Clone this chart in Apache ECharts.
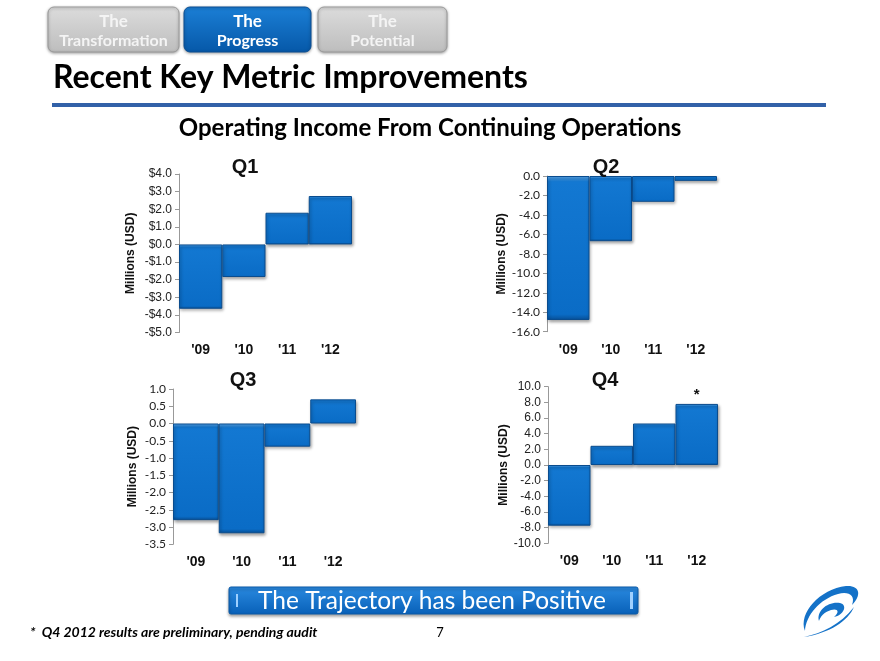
<!DOCTYPE html>
<html>
<head>
<meta charset="utf-8">
<script src="https://cdn.jsdelivr.net/npm/echarts@6/dist/echarts.min.js"></script>
<style>
html,body{margin:0;padding:0;background:#fff;}
#chart{width:880px;height:661px;}
</style>
</head>
<body>
<div id="chart"></div>
<script>
// ---- data ----
var years = ["'09", "'10", "'11", "'12"];
var q1Values = [-3.65, -1.85, 1.8, 2.75];
var q2Values = [-14.8, -6.7, -2.65, -0.5];
var q3Values = [-2.8, -3.18, -0.67, 0.7];
var q4Values = [-7.75, 2.45, 5.3, 7.8];
var panelTitles = ['Q1', 'Q2', 'Q3', 'Q4'];
var yAxisName = 'Millions (USD)';

var chart = echarts.init(document.getElementById('chart'));

var grids = [
  {left: 179, top: 174, width: 173, height: 158.5},
  {left: 547, top: 176, width: 170, height: 155.7},
  {left: 173, top: 389, width: 183, height: 155.3},
  {left: 548, top: 386.7, width: 170, height: 156.6}
];
var yCfg = [
  {min: -5, max: 4, interval: 1, fmt: function (v) { return (v < 0 ? '-$' : '$') + Math.abs(v).toFixed(1); }, gap: 42, font: 'Liberation Sans'},
  {min: -16, max: 0, interval: 2, fmt: function (v) { return v.toFixed(1); }, gap: 39, font: 'Lato'},
  {min: -3.5, max: 1, interval: 0.5, fmt: function (v) { return v.toFixed(1); }, gap: 34, font: 'Lato'},
  {min: -10, max: 10, interval: 2, fmt: function (v) { return v.toFixed(1); }, gap: 37, font: 'Liberation Sans'}
];
var seriesValues = [q1Values, q2Values, q3Values, q4Values];

function barStyle() {
  return {
    color: {type: 'linear', x: 0, y: 0, x2: 0, y2: 1, colorStops: [
      {offset: 0, color: '#5aa8ec'},
      {offset: 0.04, color: '#1378d2'},
      {offset: 0.96, color: '#0a6cc6'},
      {offset: 1, color: '#074f96'}
    ]},
    borderColor: '#0a4c8e',
    borderWidth: 1,
    shadowColor: 'rgba(0,0,0,0.35)',
    shadowBlur: 3,
    shadowOffsetX: 1,
    shadowOffsetY: 2
  };
}

var xAxes = [], yAxes = [], series = [];
for (var i = 0; i < 4; i++) {
  xAxes.push({
    type: 'category', gridIndex: i, data: years, position: 'bottom',
    axisLine: {show: false}, axisTick: {show: false},
    axisLabel: {margin: 11, fontFamily: 'Liberation Sans', fontWeight: 'bold', fontSize: 14, color: '#111'}
  });
  yAxes.push({
    type: 'value', gridIndex: i, min: yCfg[i].min, max: yCfg[i].max, interval: yCfg[i].interval,
    name: yAxisName, nameLocation: 'middle', nameGap: yCfg[i].gap,
    nameTextStyle: {fontFamily: 'Liberation Sans', fontWeight: 'bold', fontSize: 12, color: '#111'},
    axisLine: {show: true, lineStyle: {color: '#999'}},
    axisTick: {show: true, length: 4, lineStyle: {color: '#999'}},
    splitLine: {show: false},
    axisLabel: {formatter: yCfg[i].fmt, fontFamily: yCfg[i].font, fontSize: 12, color: '#222', margin: 7}
  });
  series.push({
    type: 'bar', xAxisIndex: i, yAxisIndex: i, data: seriesValues[i],
    barCategoryGap: '0%', barWidth: '100%', itemStyle: barStyle(),
    label: {show: false}
  });
}
// asterisk on Q4 '12
series[3].data = q4Values.map(function (v, k) {
  return k === 3 ? {value: v, label: {show: true, position: 'top', formatter: '*', fontSize: 15, fontWeight: 'bold', color: '#111', distance: 2, fontFamily: 'Liberation Sans'}} : v;
});

var titlePos = [[240, 152], [601, 152], [238, 365], [600, 365]];
var titles = panelTitles.map(function (t, k) {
  return {text: t, left: titlePos[k][0], top: titlePos[k][1], textAlign: 'center',
    textStyle: {fontFamily: 'Liberation Sans', fontWeight: 'bold', fontSize: 20, color: '#111'}};
});

function grad(c1, c2) {
  return {type: 'linear', x: 0, y: 0, x2: 0, y2: 1, colorStops: [{offset: 0, color: c1}, {offset: 1, color: c2}]};
}

function tab(x, w, l1, l2, active) {
  var fill = active ? grad('#1b7fd6', '#0658a8') : grad('#dcdcdc', '#bdbdbd');
  var txt = active ? '#ffffff' : '#f4f4f4';
  return [
    {type: 'rect', shape: {x: x, y: 7, width: w, height: 45, r: 6}, style: {fill: fill, stroke: active ? '#0a4f94' : '#9a9a9a', lineWidth: 1, shadowBlur: 3, shadowColor: 'rgba(0,0,0,0.35)', shadowOffsetY: 1}},
    {type: 'text', x: x + w / 2, y: 22, style: {text: l1, fill: txt, font: 'bold 17px Lato', textAlign: 'center', textVerticalAlign: 'middle'}},
    {type: 'text', x: x + w / 2, y: 41, style: {text: l2, fill: txt, font: 'bold 16px Lato', textAlign: 'center', textVerticalAlign: 'middle'}}
  ];
}

var logoPaths = [
  'M 3 46 C -4 28 18 4 44 1 C 58 0 60 10 50 20 C 54 10 46 6 36 9 C 18 14 4 30 3 46 Z',
  'M 17 36 C 14 26 26 16 38 18 C 46 20 42 30 32 32 C 38 27 36 23 29 25 C 22 27 18 32 17 36 Z',
  'M 2 52 C 20 48 38 40 52 22 C 46 36 28 48 2 52 Z'
];
var logoChildren = [];
try {
  logoPaths.forEach(function (p, k) {
    echarts.graphic.registerShape('logoPart' + k, echarts.graphic.extendPath(p, {}));
    logoChildren.push({type: 'logoPart' + k, shape: {}, style: {fill: '#1472c8'}});
  });
} catch (e) { logoChildren = []; }

var graphics = [].concat(
  tab(48, 131, 'The', 'Transformation', false),
  tab(184, 127, 'The', 'Progress', true),
  tab(318, 129, 'The', 'Potential', false),
  [
    {type: 'text', x: 53, y: 78, style: {text: 'Recent Key Metric Improvements', fill: '#000', font: 'bold 32px Lato', textVerticalAlign: 'middle'}},
    {type: 'rect', shape: {x: 52, y: 103, width: 774, height: 4}, style: {fill: '#3261a8'}},
    {type: 'text', x: 430, y: 128, style: {text: 'Operating Income From Continuing Operations', fill: '#000', font: 'bold 24px Lato', textAlign: 'center', textVerticalAlign: 'middle'}},
    {type: 'rect', shape: {x: 229, y: 587, width: 409, height: 27, r: 2}, style: {fill: grad('#2a8ae0', '#0860b8'), stroke: '#0a5aa8', shadowBlur: 3, shadowColor: 'rgba(0,0,0,0.35)', shadowOffsetY: 2}},
    {type: 'rect', shape: {x: 236, y: 594, width: 2, height: 13}, style: {fill: '#9fd0ff'}},
    {type: 'rect', shape: {x: 630, y: 592, width: 3, height: 17}, style: {fill: '#9fd0ff'}},
    {type: 'text', x: 432, y: 601, style: {text: 'The Trajectory has been Positive', fill: '#fff', font: '24.5px Lato', textAlign: 'center', textVerticalAlign: 'middle'}},
    {type: 'text', x: 30, y: 632, style: {text: '*  Q4 2012 results are preliminary, pending audit', fill: '#000', font: 'italic bold 14px Lato', textVerticalAlign: 'middle'}},
    {type: 'text', x: 440, y: 633, style: {text: '7', fill: '#000', font: '13px Lato', textAlign: 'center', textVerticalAlign: 'middle'}},
    {type: 'group', x: 802, y: 585, children: logoChildren}
  ]
);

chart.setOption({
  animation: false,
  backgroundColor: '#ffffff',
  title: titles,
  grid: grids,
  xAxis: xAxes,
  yAxis: yAxes,
  series: series,
  graphic: graphics
});
</script>
</body>
</html>
